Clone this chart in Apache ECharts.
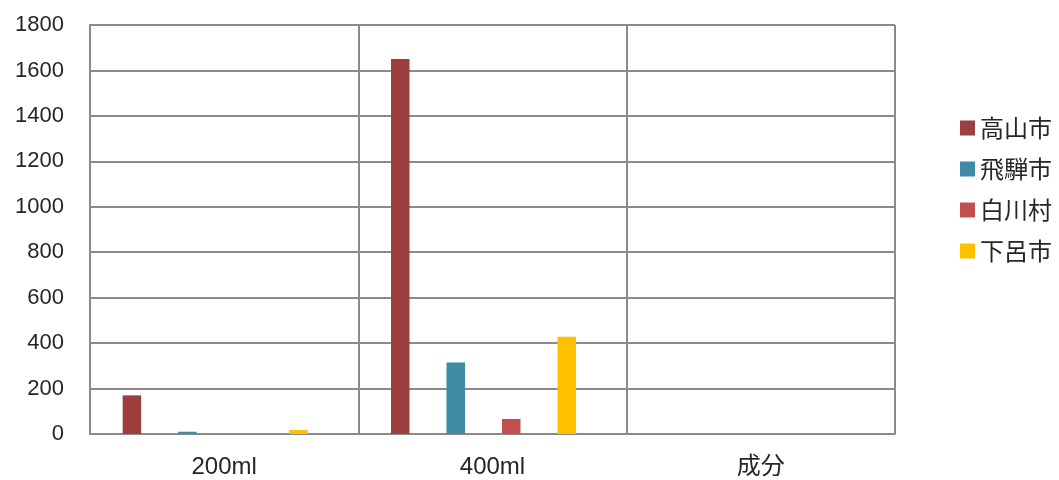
<!DOCTYPE html>
<html>
<head>
<meta charset="utf-8">
<script src="https://cdn.jsdelivr.net/npm/echarts@6/dist/echarts.min.js"></script>
<style>
html,body{margin:0;padding:0;background:#fff;}
#chart{width:1059px;height:480px;}
</style>
</head>
<body>
<div id="chart"></div>
<script>
const categories = ['200ml', '400ml', '成分'];
const seriesNames = ['高山市', '飛騨市', '白川村', '下呂市'];
const takayama = [170, 1650, null];
const hida = [10, 315, null];
const shirakawa = [0, 66, null];
const gero = [18, 428, null];
const yTicks = { min: 0, max: 1800, interval: 200 };
const colors = ['#9D3F3E', '#3D8BA4', '#C0504D', '#FFC000'];

const font = "'Liberation Sans', 'Noto Sans CJK JP', sans-serif";
const gridColor = '#8a8a8a';
const textColor = '#262626';
const values = [takayama, hida, shirakawa, gero];

const chart = echarts.init(document.getElementById('chart'));
chart.setOption({
  animation: false,
  color: colors,
  textStyle: { fontFamily: font },
  legend: {
    orient: 'vertical',
    left: 955,
    top: 111,
    itemWidth: 15,
    itemHeight: 15,
    itemGap: 17,
    icon: 'rect',
    textStyle: { fontSize: 24, color: textColor, fontFamily: "'Noto Sans CJK JP', sans-serif" },
    data: seriesNames
  },
  grid: [
    { left: 90, right: 164, top: 25, bottom: 46 },
    { left: 81, right: 173, top: 25, bottom: 46 }
  ],
  xAxis: [
    {
      type: 'category', gridIndex: 0, data: categories,
      axisLine: { show: true, lineStyle: { color: gridColor, width: 2 } },
      axisTick: { show: false },
      axisLabel: { fontSize: 24, color: textColor, margin: 21, fontFamily: font },
      splitLine: { show: true, lineStyle: { color: gridColor, width: 2 } }
    },
    {
      type: 'category', gridIndex: 1, data: categories,
      axisLine: { show: false }, axisTick: { show: false },
      axisLabel: { show: false }, splitLine: { show: false }
    }
  ],
  yAxis: [
    {
      type: 'value', gridIndex: 0, min: yTicks.min, max: yTicks.max, interval: yTicks.interval,
      axisLine: { show: true, lineStyle: { color: gridColor, width: 2 } },
      axisTick: { show: false },
      axisLabel: { fontSize: 22, color: textColor, margin: 26, fontFamily: font, formatter: v => String(v) },
      splitLine: { show: true, lineStyle: { color: gridColor, width: 2 } }
    },
    {
      type: 'value', gridIndex: 1, min: yTicks.min, max: yTicks.max, interval: yTicks.interval,
      axisLine: { show: false }, axisTick: { show: false },
      axisLabel: { show: false }, splitLine: { show: false }
    }
  ],
  series: seriesNames.map((name, i) => ({
    name: name,
    type: 'bar',
    xAxisIndex: 1,
    yAxisIndex: 1,
    data: values[i],
    barWidth: 18.5,
    barGap: '200%',
    itemStyle: { color: colors[i] }
  }))
});
</script>
</body>
</html>
